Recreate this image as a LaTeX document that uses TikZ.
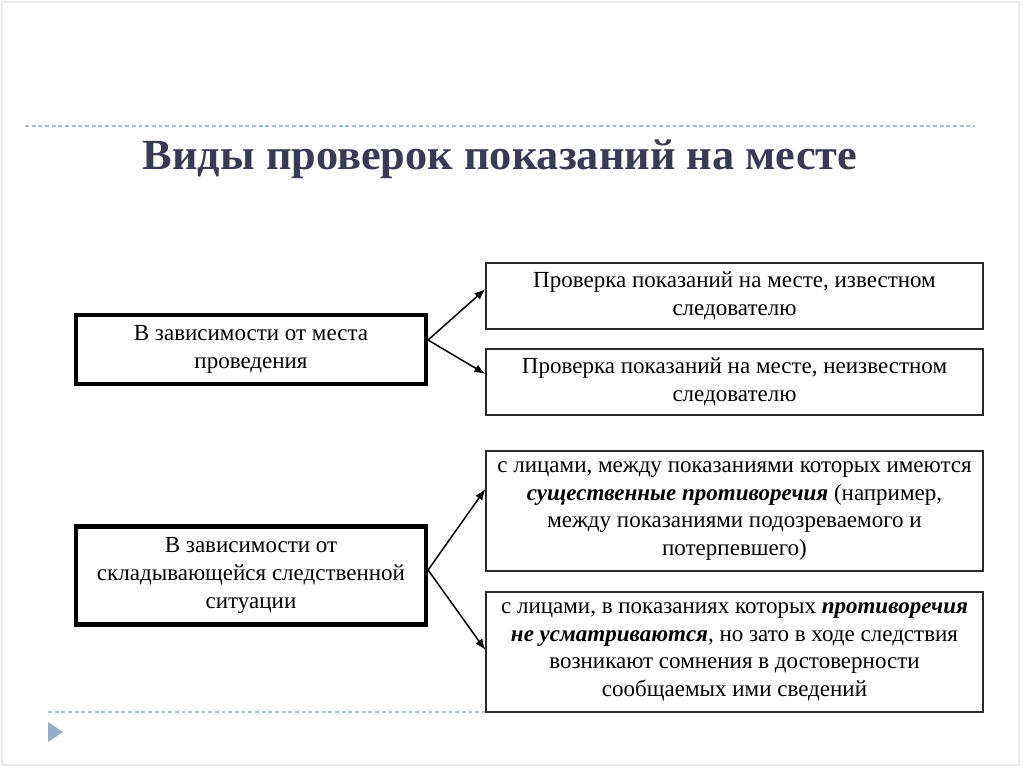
\documentclass[tikz,border=0pt]{standalone}
\usepackage{fontspec}
\setmainfont{Liberation Serif}
\usetikzlibrary{arrows.meta}
\definecolor{dashblue}{HTML}{A9BFD4}
\definecolor{tri}{HTML}{94AFCB}
\definecolor{titlec}{HTML}{3A3A56}
\definecolor{framec}{HTML}{EBEBEB}
\definecolor{boxc}{HTML}{2A2A2A}
\tikzset{
  thinbox/.style={draw=boxc, line width=0.8pt, fill=white, minimum width=9.94cm, align=center, inner sep=0pt,
    font=\fontsize{13.1pt}{15.8pt}\selectfont},
  thickbox/.style={draw=black, line width=2.4pt, fill=white, minimum width=7.0cm, align=center, inner sep=0pt,
    font=\fontsize{13.1pt}{15.8pt}\selectfont},
  conn/.style={line width=0.85pt, -{Latex[length=2.2mm,width=1.7mm]}},
  sep/.style={dashblue, line width=0.7pt, dash pattern=on 2.2pt off 1.6pt}
}
\begin{document}
\begin{tikzpicture}[x=0.02cm,y=-0.02cm]
\useasboundingbox (0,0) rectangle (1024,767);
\fill[white] (0,0) rectangle (1024,767);
\draw[framec, line width=0.6pt] (2,2) rectangle (1019,765);
% separators
\draw[sep] (25,126) -- (975,126);
\draw[sep] (48,712) -- (975,712);
\fill[tri] (48,722) -- (63,732) -- (48,742) -- cycle;
% title
\node (title) at (500,159) {\color{titlec}\scalebox{1.03}[1]{\fontsize{24.5pt}{28pt}\selectfont\bfseries Виды проверок показаний на месте}};
% left boxes
\node[thickbox, minimum height=1.38cm] (L1) at (251,349.5) {В зависимости от места\\проведения};
\node[thickbox, minimum height=1.96cm] (L2) at (251,575.5) {В зависимости от\\складывающейся следственной\\ситуации};
% right boxes
\node[thinbox, minimum height=1.32cm] (R1) at (734.5,296) {Проверка показаний на месте, известном\\следователю};
\node[thinbox, minimum height=1.32cm] (R2) at (734.5,382) {Проверка показаний на месте, неизвестном\\следователю};
\node[thinbox, minimum height=2.40cm] (R3) at (734.5,511) {с лицами, между показаниями которых имеются\\\textbf{\textit{существенные противоречия}} (например,\\между показаниями подозреваемого и\\потерпевшего)};
\node[thinbox, minimum height=2.40cm] (R4) at (734.5,652) {с лицами, в показаниях которых \textbf{\textit{противоречия}}\\\textbf{\textit{не усматриваются}}, но зато в ходе следствия\\возникают сомнения в достоверности\\сообщаемых ими сведений};
% connectors
\draw[conn] ([yshift=0.19cm]L1.east) -- ([yshift=0.14cm]R1.west);
\draw[conn] ([yshift=0.19cm]L1.east) -- ([yshift=0.16cm]R2.west);
\draw[conn] ([yshift=0.11cm]L2.east) -- ([yshift=0.44cm]R3.west);
\draw[conn] ([yshift=0.11cm]L2.east) -- ([yshift=0.04cm]R4.west);
\end{tikzpicture}
\end{document}
